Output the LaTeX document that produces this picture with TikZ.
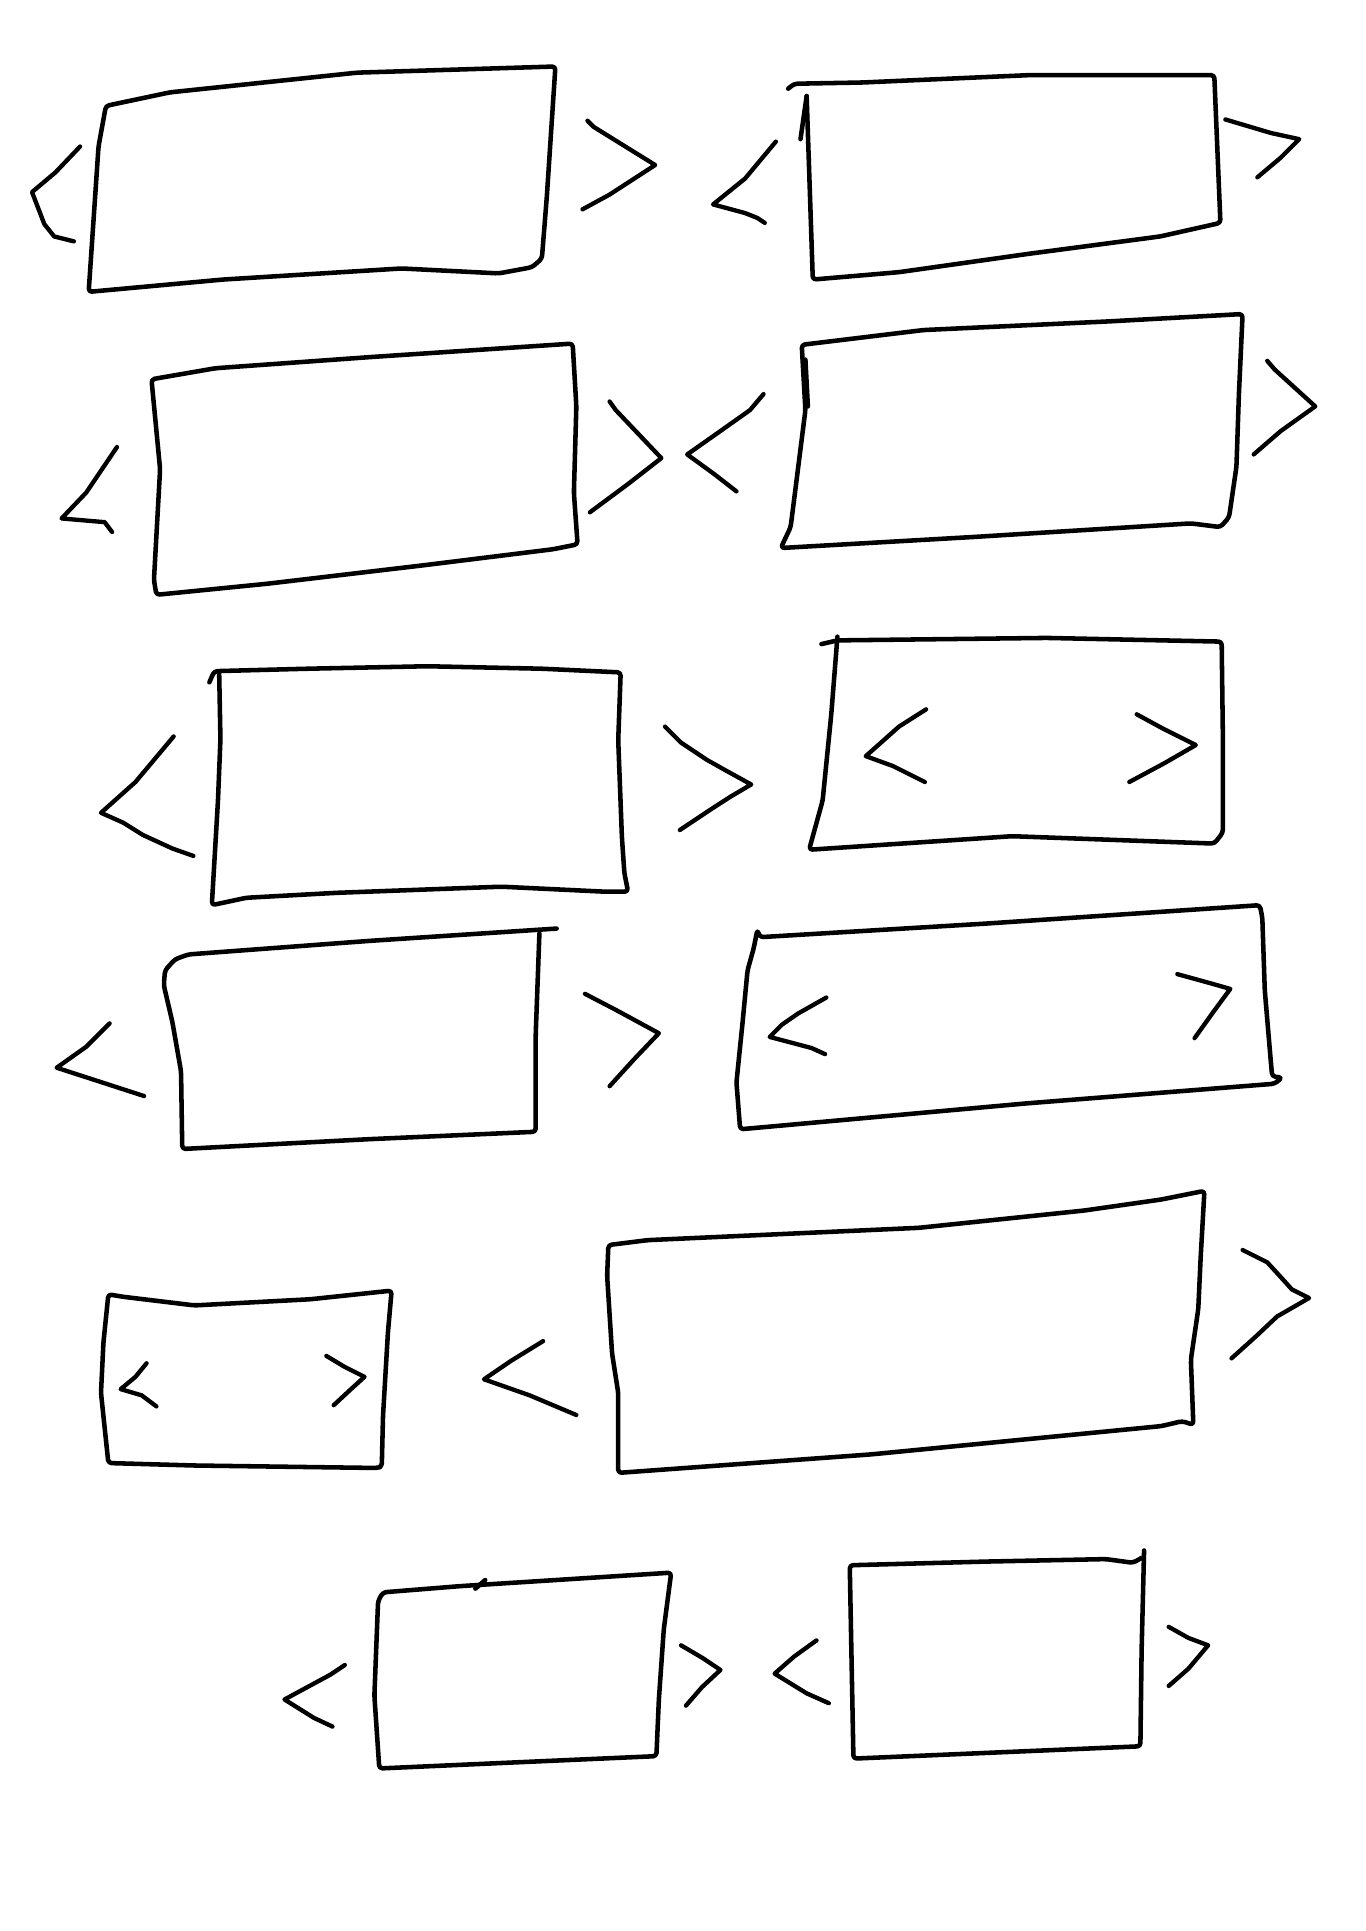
\documentclass[tikz,border=0pt]{standalone}
\usepackage{tikz}

\begin{document}
\begin{tikzpicture}[
  x=0.02cm, y=-0.02cm,
  pen/.style={draw=black, line width=2.1pt, line cap=round, line join=round},
  rect/.style={pen, rounded corners=1.5pt},
  chev/.style={pen, line width=2pt}
]
\useasboundingbox[fill=white] (0,0) rectangle (1109,1568);

% row 1
\draw[rect] (86,86) -- (138,75) -- (290,59) -- (451,54) -- (444,160) -- (440,210) -- (432,217) -- (405,222)
  -- (326,218) -- (181,227) -- (72,237) -- (80,119) -- cycle;
\draw[chev] (65,119) -- (45,140) -- (26,156) -- (36,182) -- (44,192) -- (60,196);
\draw[chev] (477,98) -- (482,103) -- (532,134) -- (495,158) -- (473,170);

\draw[rect] (655,78) -- (660,227) -- (730,221) -- (836,206) -- (942,192) -- (991,181) -- (986,61)
  -- (836,61) -- (700,67) -- (645,68) -- (640,72);
\draw[rect] (650,113) -- (655,78);
\draw[chev] (630,115) -- (605,145) -- (579,166) -- (605,173) -- (615,177) -- (621,181);
\draw[chev] (995,97) -- (1032,108) -- (1055,113) -- (1040,128) -- (1021,144);

% row 2
\draw[rect] (123,308) -- (175,299) -- (300,290) -- (465,279) -- (468,330) -- (466,400) -- (469,442)
  -- (449,446) -- (344,459) -- (217,474) -- (127,483) -- (125,471) -- (130,381) -- cycle;
\draw[chev] (95,363) -- (70,400) -- (50,421) -- (85,424) -- (91,432);
\draw[chev] (495,326) -- (500,333) -- (537,372) -- (510,393) -- (479,416);

\draw[rect] (651,280) -- (750,268) -- (900,261) -- (1009,255) -- (1006,320) -- (1004,379) -- (998,420)
  -- (991,428) -- (967,425) -- (791,436) -- (634,445) -- (642,428) -- (654,333) -- cycle;
\draw[rect] (654,292) -- (656,330);
\draw[chev] (620,320) -- (609,333) -- (585,350) -- (558,369) -- (580,385) -- (598,399);
\draw[chev] (1029,293) -- (1035,300) -- (1068,330) -- (1040,350) -- (1018,369);

% row 3
\draw[rect] (178,548) -- (179,600) -- (177,650) -- (172,735) -- (200,729) -- (273,725) -- (407,720)
  -- (490,724) -- (510,724) -- (507,709) -- (505,680) -- (502,601) -- (504,546) -- (440,543)
  -- (347,541) -- (250,543) -- (174,545) -- (170,554);
\draw[chev] (141,598) -- (110,635) -- (82,660) -- (100,668) -- (116,678) -- (140,689) -- (157,695);
\draw[chev] (540,590) -- (553,603) -- (574,617) -- (590,626) -- (610,637) -- (593,647) -- (576,658) -- (552,674);

\draw[rect] (680,517) -- (675,580) -- (668,650) -- (657,690) -- (822,679) -- (986,685) -- (993,676)
  -- (993,600) -- (992,521) -- (850,518) -- (680,520) -- (667,523);
\draw[chev] (752,576) -- (730,590) -- (703,614) -- (725,622) -- (751,635);
\draw[chev] (923,580) -- (945,592) -- (971,605) -- (945,620) -- (917,635);

% row 4
\draw[rect] (438,758) -- (435,840) -- (435,919) -- (300,925) -- (148,933) -- (147,870) -- (140,830)
  -- (133,800) -- (134,788) -- (142,779) -- (153,775) -- (300,764) -- (452,754);
\draw[chev] (89,831) -- (70,850) -- (46,867) -- (80,878) -- (117,890);
\draw[chev] (475,807) -- (500,820) -- (535,839) -- (515,860) -- (495,882);

\draw[rect] (615,755) -- (617,761) -- (800,750) -- (1023,735) -- (1025,745) -- (1027,804) -- (1032,863)
  -- (1033,874) -- (1041,875) -- (1035,880) -- (833,896) -- (601,917) -- (598,879) -- (603,830)
  -- (607,788) -- (612,770) -- cycle;
\draw[chev] (671,810) -- (648,823) -- (635,832) -- (625,842) -- (659,851) -- (670,856);
\draw[chev] (956,791) -- (985,799) -- (999,803) -- (985,822) -- (970,843);

% row 5
\draw[rect] (88,1051) -- (100,1053) -- (158,1060) -- (252,1055) -- (318,1048) -- (315,1082) -- (311,1150)
  -- (310,1191) -- (306,1192) -- (158,1190) -- (88,1188) -- (82,1131) -- (84,1090) -- cycle;
\draw[chev] (119,1107) -- (110,1118) -- (98,1128) -- (115,1133) -- (127,1142);
\draw[chev] (265,1101) -- (280,1110) -- (296,1118) -- (285,1128) -- (271,1141);
\draw[chev] (441,1089) -- (415,1105) -- (393,1120) -- (430,1133) -- (468,1149);

\draw[rect] (494,1011) -- (526,1007) -- (746,997) -- (880,983) -- (943,974) -- (978,967) -- (975,1020)
  -- (973,1063) -- (967,1104) -- (969,1157) -- (960,1154) -- (943,1158) -- (707,1181) -- (502,1196)
  -- (502,1131) -- (497,1099) -- (493,1036) -- cycle;
\draw[chev] (1009,1015) -- (1029,1025) -- (1040,1037) -- (1049,1047) -- (1063,1054) -- (1037,1069)
  -- (1020,1085) -- (1000,1103);

% row 6
\draw[rect] (311,1293) -- (373,1288) -- (545,1277) -- (539,1323) -- (535,1380) -- (533,1426) -- (420,1431)
  -- (308,1436) -- (304,1377) -- (307,1300) -- cycle;
\draw[rect] (394,1283) -- (386,1290);
\draw[chev] (280,1352) -- (268,1360) -- (231,1380) -- (255,1395) -- (270,1402);
\draw[chev] (553,1336) -- (570,1346) -- (585,1356) -- (570,1370) -- (557,1385);

\draw[rect] (929,1259) -- (927,1340) -- (926,1418) -- (693,1428) -- (690,1271) -- (801,1268) -- (898,1266)
  -- (920,1269) -- (927,1265);
\draw[chev] (663,1332) -- (645,1345) -- (629,1359) -- (655,1375) -- (673,1383);
\draw[chev] (949,1321) -- (965,1330) -- (981,1336) -- (965,1355) -- (949,1369);
\end{tikzpicture}
\end{document}
